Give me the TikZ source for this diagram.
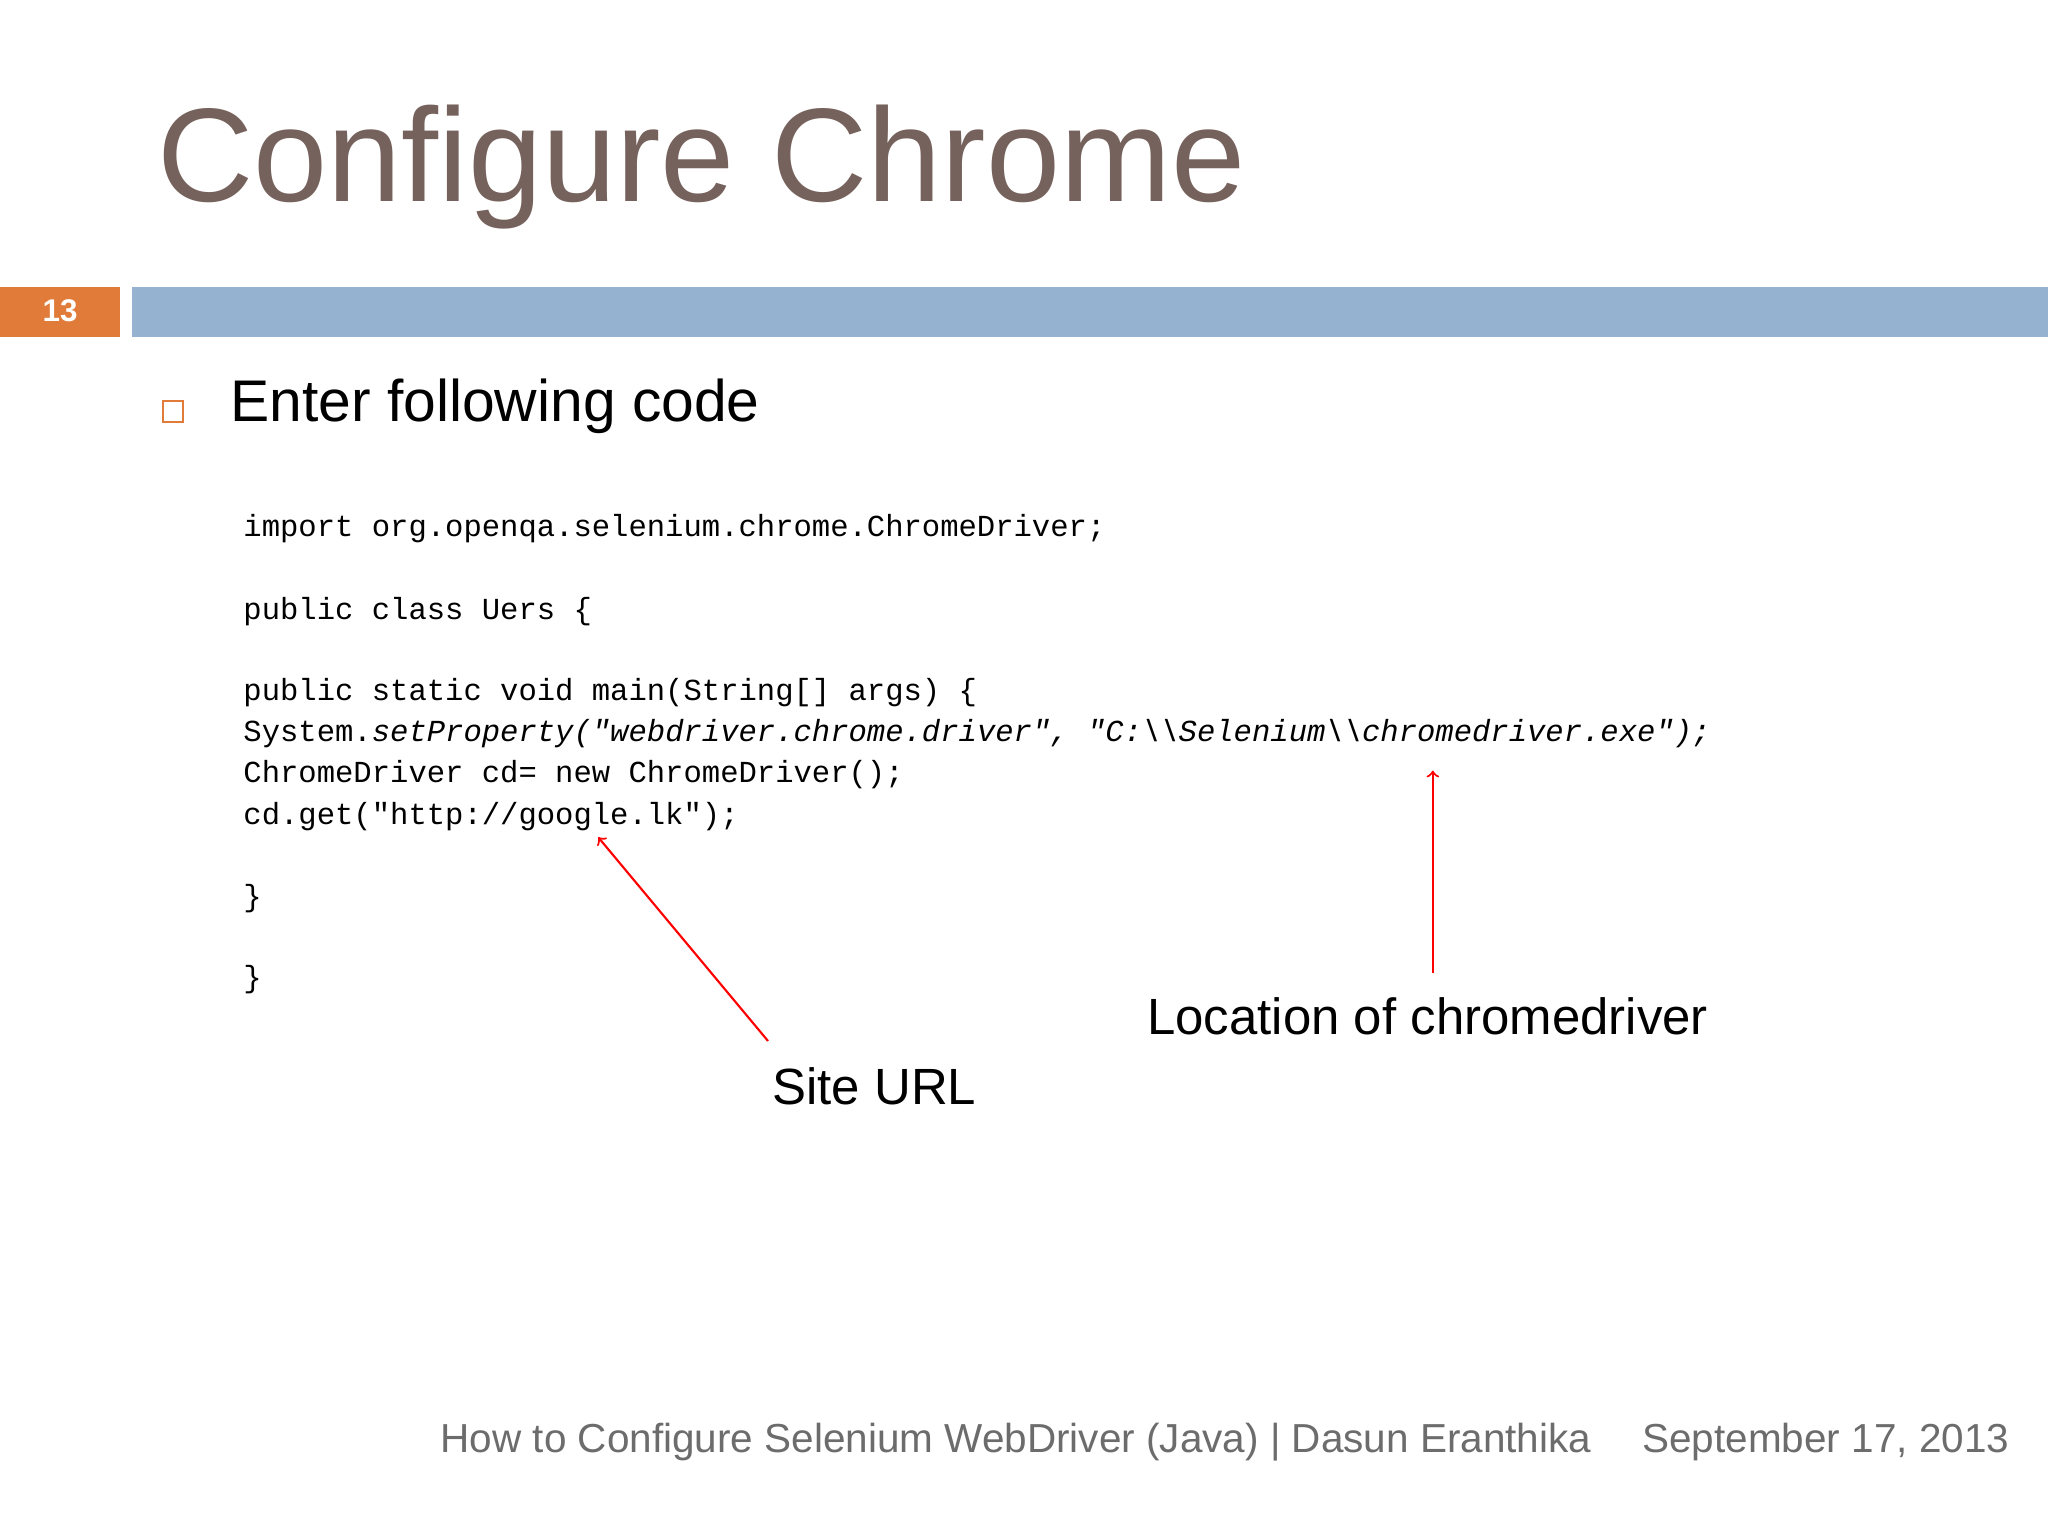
\documentclass[tikz,border=0pt]{standalone}
\usepackage{fontspec}
\setmainfont{Liberation Sans}
\setmonofont{Liberation Mono}
\begin{document}
\begin{tikzpicture}[x=0.5pt,y=-0.5pt,
  code/.style={anchor=base west,inner sep=0pt,font=\ttfamily\fontsize{11.7}{12}\selectfont},
  lbl/.style={anchor=west,inner sep=0pt,font=\fontsize{19.5}{22}\selectfont},
  foot/.style={anchor=west,inner sep=0pt,text=gray!85!black,font=\fontsize{15.5}{18}\selectfont},
  redarrow/.style={draw=red,line width=0.8pt,->}]
\definecolor{titlec}{HTML}{76625C}
\definecolor{barblue}{HTML}{95B3D1}
\definecolor{barorange}{HTML}{E07B39}
\useasboundingbox (0,0) rectangle (1568,1176);
\fill[white] (0,0) rectangle (1568,1176);
\node[anchor=west,inner sep=0pt,text=titlec,font=\fontsize{51}{56}\selectfont] (title) at (120,128) {Configure Chrome};
\fill[barorange] (0,220) rectangle (92,258);
\fill[barblue] (101,220) rectangle (1568,258);
\node[text=white,font=\bfseries\fontsize{12}{14}\selectfont] (num) at (46,238) {13};
\draw[barorange,line width=0.8pt] (125,307) rectangle (140,323);
\node[anchor=west,inner sep=0pt,font=\fontsize{22.5}{26}\selectfont] (bullet) at (176,311) {Enter following code};
\node[code] (l1) at (186,411) {import org.openqa.selenium.chrome.ChromeDriver;};
\node[code] (l2) at (186,474) {public class Uers \{};
\node[code] (l3) at (186,536) {public static void main(String[] args) \{};
\node[code] (l4) at (186,568) {System.\textit{setProperty("webdriver.chrome.driver", "C:\textbackslash\textbackslash Selenium\textbackslash\textbackslash chromedriver.exe");}};
\node[code] (l5) at (186,599) {ChromeDriver cd= new ChromeDriver();};
\node[code] (l6) at (186,631) {cd.get("http://google.lk");};
\node[code] (l7) at (186,694) {\}};
\node[code] (l8) at (186,756) {\}};
\node[lbl] (loc) at (878,778) {Location of chromedriver};
\node[lbl] (site) at (591,832) {Site URL};
\coordinate (a1s) at (588,797);
\coordinate (a1e) at (458,641);
\coordinate (a2s) at (1097,745);
\coordinate (a2e) at (1097,590);
\draw[redarrow] (a1s) -- (a1e);
\draw[redarrow] (a2s) -- (a2e);
\node[foot] (f1) at (337,1104) {How to Configure Selenium WebDriver (Java) | Dasun Eranthika};
\node[foot] (f2) at (1257,1104) {September 17, 2013};
\end{tikzpicture}
\end{document}
